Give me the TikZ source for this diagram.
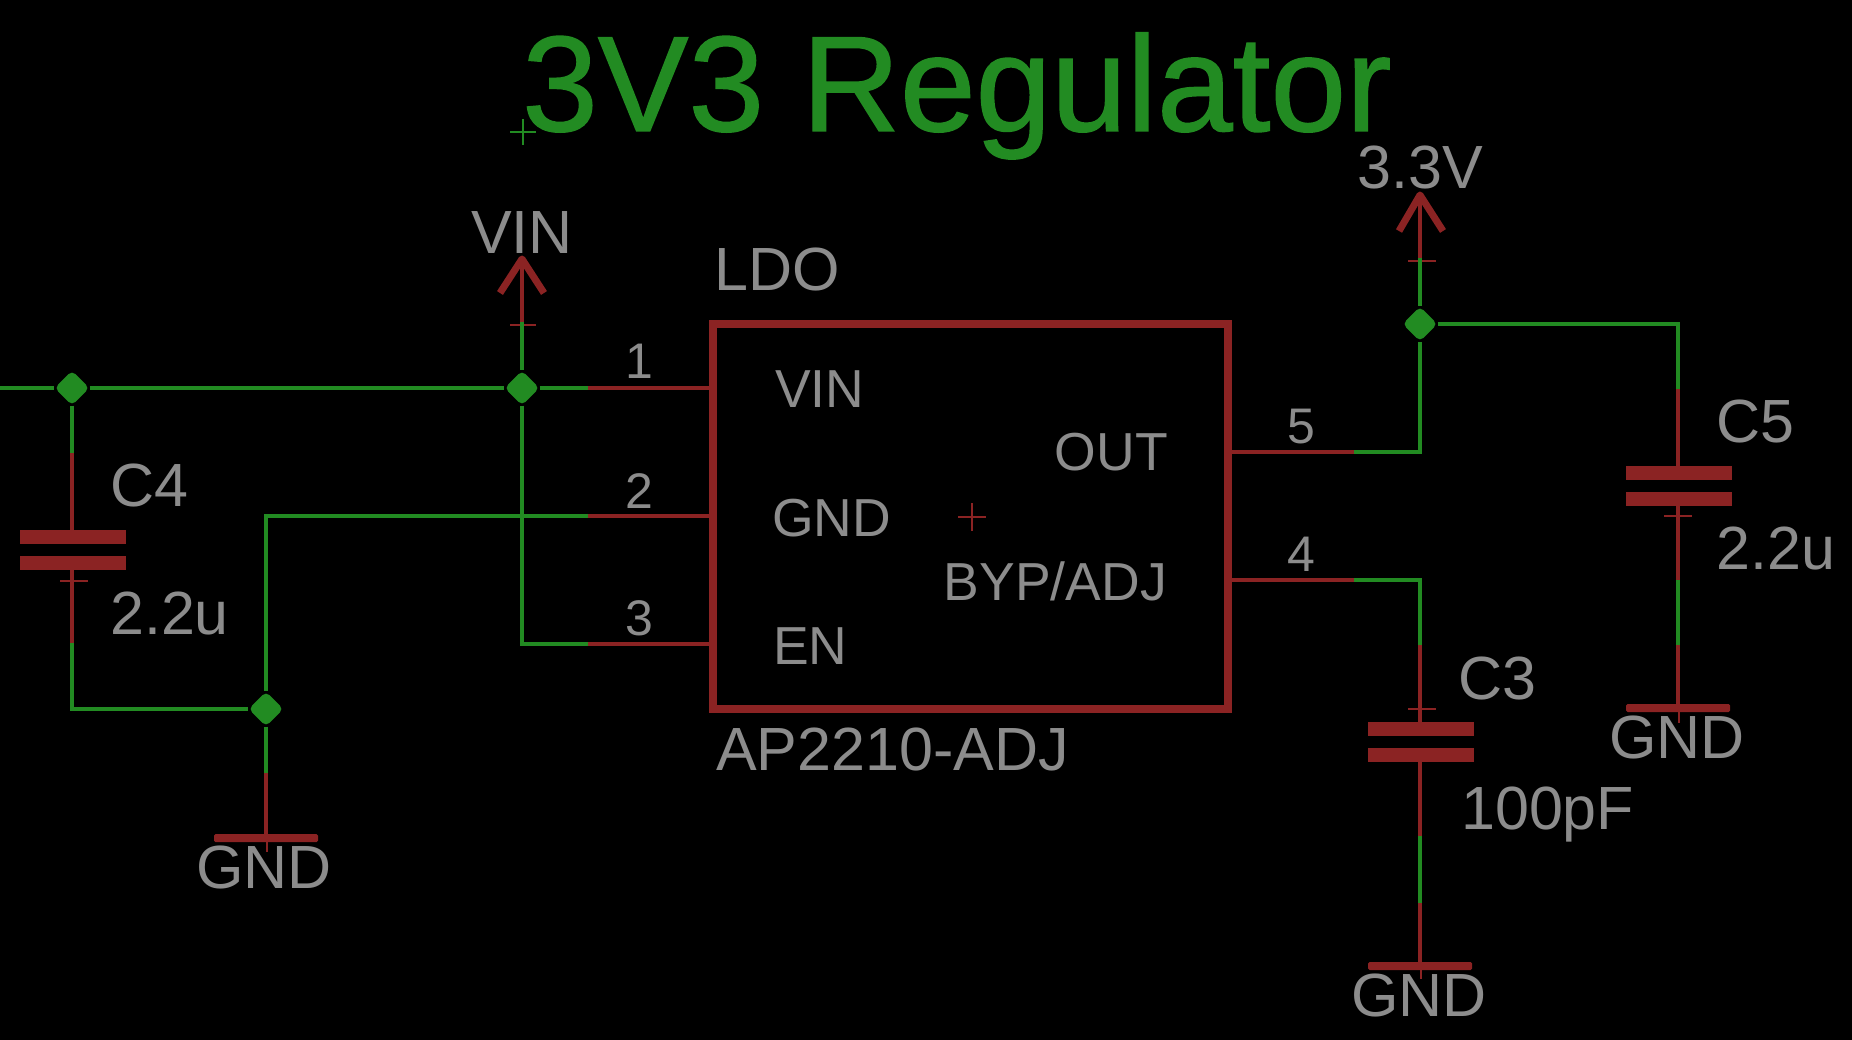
\documentclass[tikz,border=0pt]{standalone}
\usepackage{fontspec}
\setmainfont{Liberation Sans}
\newfontface\titlefont[FakeBold=1]{Liberation Sans}
\usetikzlibrary{shapes.geometric}
\definecolor{netgreen}{RGB}{34,139,34}
\definecolor{symred}{RGB}{139,35,35}
\definecolor{txtgray}{RGB}{140,140,140}
\tikzset{
    wire/.style={draw=netgreen, line width=4pt},
    lead/.style={draw=symred, line width=4pt},
    wing/.style={draw=symred, line width=7pt, line join=round},
    origin/.style={draw=symred, line width=1.5pt},
    junction/.style={diamond, fill=netgreen, inner sep=0pt, minimum width=35pt, minimum height=35pt, rounded corners=5pt},
    plate/.style={fill=symred, inner sep=0pt, minimum width=106pt, minimum height=14pt},
    gndbar/.style={fill=symred, inner sep=0pt, minimum width=104pt, minimum height=8pt, rounded corners=1.5pt},
    big/.style={text=txtgray, inner sep=0pt, font=\fontsize{61}{61}\selectfont},
    mid/.style={text=txtgray, inner sep=0pt, font=\fontsize{53.5}{53.5}\selectfont},
    pinno/.style={text=txtgray, inner sep=0pt, font=\fontsize{50}{50}\selectfont}
}
\begin{document}
\begin{tikzpicture}[x=1pt, y=-1pt]
    \useasboundingbox[fill=black] (0,0) rectangle (1852,1040);

    % title
    \node[anchor=base west, text=netgreen, inner sep=0pt, font=\titlefont\fontsize{136}{136}\selectfont] (title) at (522,131) {3V3 Regulator};
    \draw[draw=netgreen, line width=1.5pt] (510,132) -- (536,132);
    \draw[draw=netgreen, line width=1.5pt] (523,119) -- (523,145);

    % regulator body
    \node[draw=symred, line width=7.5pt, inner sep=0pt, minimum width=515pt, minimum height=385pt] (ldo) at (970.5,516.5) {};
    \draw[origin] (958,517) -- (986,517);
    \draw[origin] (972,503) -- (972,531);
    \node[big, anchor=base west] (ldoname) at (714,291) {LDO};
    \node[big, anchor=base west] (ldovalue) at (716,770) {AP2210-ADJ};
    \node[mid, anchor=base west] (nvin) at (775,407) {VIN};
    \node[mid, anchor=base west] (ngnd) at (772,536) {GND};
    \node[mid, anchor=base west] (nen) at (773,664) {EN};
    \node[mid, anchor=base east] (nout) at (1168,470) {OUT};
    \node[mid, anchor=base east] (nbyp) at (1167,600) {BYP/ADJ};

    % pins
    \coordinate (p1) at (712,388);
    \coordinate (p2) at (712,516);
    \coordinate (p3) at (712,644);
    \coordinate (p4) at (1228,580);
    \coordinate (p5) at (1228,452);
    \coordinate (e1) at (588,388);
    \coordinate (e2) at (588,516);
    \coordinate (e3) at (588,644);
    \coordinate (e4) at (1354,580);
    \coordinate (e5) at (1354,452);
    \draw[lead] (p1) -- (e1);
    \draw[lead] (p2) -- (e2);
    \draw[lead] (p3) -- (e3);
    \draw[lead] (p4) -- (e4);
    \draw[lead] (p5) -- (e5);
    \node[pinno, anchor=base] (n1) at (639,378) {1};
    \node[pinno, anchor=base] (n2) at (639,508) {2};
    \node[pinno, anchor=base] (n3) at (639,635) {3};
    \node[pinno, anchor=base] (n4) at (1301,571) {4};
    \node[pinno, anchor=base] (n5) at (1301,443) {5};

    % junctions
    \coordinate (left) at (0,388);
    \node[junction] (j1) at (72,388) {};
    \node[junction] (j2) at (522,388) {};
    \node[junction] (j3) at (266,709) {};
    \node[junction] (j4) at (1420,324) {};

    % VIN supply
    \coordinate (vintip) at (522,259);
    \coordinate (vinorg) at (522,322);
    \draw[lead] (vintip) -- (vinorg);
    \draw[wing] (500,293) -- (vintip) -- (544,293);
    \draw[origin] (510,325) -- (536,325);
    \node[big, anchor=base] (vin) at (522,254) {VIN};
    \draw[wire] (vinorg) -- (j2);
    \draw[wire] (left) -- (j1) -- (j2) -- (e1);
    \draw[wire] (j2) -- (522,644) -- (e3);
    \draw[wire] (e2) -- (266,516) -- (j3);

    % C4
    \coordinate (c4t) at (72,453);
    \coordinate (c4d) at (72,643);
    \node[plate] (c4a) at (73,537) {};
    \node[plate] (c4b) at (73,563) {};
    \draw[lead] (c4t) -- (c4t |- c4a.north);
    \draw[lead] (c4t |- c4b.south) -- (c4d);
    \draw[origin] (60,581) -- (88,581);
    \draw[wire] (j1) -- (c4t);
    \draw[wire] (c4d) -- (72,709) -- (j3);
    \node[big, anchor=base west] (c4name) at (110,506) {C4};
    \node[big, anchor=base west] (c4value) at (110,634) {2.2u};

    % GND left
    \coordinate (g1m) at (266,773);
    \node[gndbar] (g1) at (266,838) {};
    \draw[wire] (j3) -- (g1m);
    \draw[lead] (g1m) -- (g1);
    \draw[origin] (267,842) -- (267,852);
    \node[big, anchor=base] (g1t) at (264,888) {GND};

    % 3.3V supply
    \coordinate (vouttip) at (1420,195);
    \coordinate (voutorg) at (1420,258);
    \draw[lead] (vouttip) -- (voutorg);
    \draw[wing] (1399,231) -- (vouttip) -- (1443,231);
    \draw[origin] (1408,261) -- (1436,261);
    \node[big, anchor=base] (vout) at (1420,189) {3.3V};
    \draw[wire] (voutorg) -- (j4);
    \draw[wire] (e5) -- (1420,452) -- (j4);

    % C5
    \coordinate (c5t) at (1678,389);
    \coordinate (c5d) at (1678,580);
    \coordinate (c5m) at (1678,645);
    \node[plate] (c5a) at (1679,473) {};
    \node[plate] (c5b) at (1679,499) {};
    \draw[lead] (c5t) -- (c5t |- c5a.north);
    \draw[lead] (c5t |- c5b.south) -- (c5d);
    \draw[origin] (1664,516) -- (1692,516);
    \draw[wire] (j4) -- (1678,324) -- (c5t);
    \node[gndbar] (g2) at (1678,708) {};
    \draw[wire] (c5d) -- (c5m);
    \draw[lead] (c5m) -- (g2);
    \draw[origin] (1679,712) -- (1679,723);
    \node[big, anchor=base west] (c5name) at (1716,442) {C5};
    \node[big, anchor=base west] (c5value) at (1716,569) {2.2u};
    \node[big, anchor=base] (g2t) at (1677,758) {GND};

    % C3
    \coordinate (c3t) at (1420,645);
    \coordinate (c3d) at (1420,836);
    \coordinate (c3m) at (1420,903);
    \node[plate] (c3a) at (1421,729) {};
    \node[plate] (c3b) at (1421,755) {};
    \draw[lead] (c3t) -- (c3t |- c3a.north);
    \draw[lead] (c3t |- c3b.south) -- (c3d);
    \draw[origin] (1408,709) -- (1436,709);
    \draw[wire] (e4) -- (1420,580) -- (c3t);
    \node[gndbar] (g3) at (1420,966) {};
    \draw[wire] (c3d) -- (c3m);
    \draw[lead] (c3m) -- (g3);
    \draw[origin] (1421,970) -- (1421,979);
    \node[big, anchor=base west] (c3name) at (1458,699) {C3};
    \node[big, anchor=base west] (c3value) at (1461,829) {100pF};
    \node[big, anchor=base] (g3t) at (1419,1016) {GND};
\end{tikzpicture}
\end{document}
